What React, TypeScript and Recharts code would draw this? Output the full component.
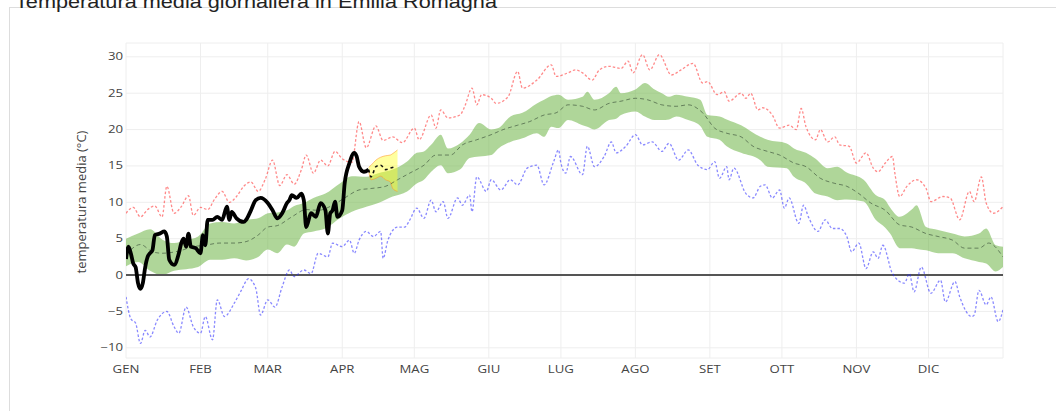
import React from 'react'
import {
  ComposedChart, Area, Line, XAxis, YAxis, CartesianGrid, ReferenceLine,
} from 'recharts'

const TITLE = 'Temperatura media giornaliera in Emilia Romagna'
const Y_LABEL = 'temperatura media (°C)'

const MONTHS = ['GEN', 'FEB', 'MAR', 'APR', 'MAG', 'GIU', 'LUG', 'AGO', 'SET', 'OTT', 'NOV', 'DIC']
const MONTH_DAYS = [0, 31, 59, 90, 120, 151, 181, 212, 243, 273, 304, 334]
const Y_TICKS = [-10, -5, 0, 5, 10, 15, 20, 25, 30]

// massimo storico (rosso)
const maxDays = [0, 3, 6, 9, 12, 15, 17, 20, 23, 26, 28, 31, 34, 37, 40, 43, 46, 49, 52, 55, 58, 61, 64, 67, 70, 73, 75, 78, 81, 84, 87, 90, 94, 97, 100, 104, 107, 111, 115, 120, 122, 127, 129, 131, 134, 139, 141, 144, 146, 148, 152, 154, 159, 163, 165, 171, 177, 179, 184, 187, 190, 194, 197, 201, 206, 209, 211, 215, 218, 222, 227, 231, 236, 240, 242, 246, 249, 251, 256, 258, 260, 263, 265, 269, 272, 276, 279, 281, 283, 287, 289, 292, 295, 297, 301, 304, 308, 311, 313, 316, 319, 320, 322, 325, 329, 333, 335, 340, 343, 347, 351, 353, 356, 358, 361, 365]
const maxVals = [8.5, 9.3, 8.0, 9.0, 9.5, 8.0, 12.2, 8.5, 9.4, 10.9, 8.2, 9.3, 9.0, 10.5, 11.5, 10.0, 10.8, 12.2, 12.8, 11.5, 13.2, 15.8, 12.3, 13.8, 12.5, 14.5, 16.5, 14.0, 15.8, 15.0, 17.0, 16.0, 15.5, 21.1, 17.5, 20.5, 18.5, 19.0, 18.2, 20.2, 18.6, 22.0, 20.2, 22.7, 21.6, 22.0, 23.2, 25.7, 23.4, 24.8, 24.3, 23.6, 24.5, 28.0, 25.7, 26.8, 28.9, 27.3, 27.8, 28.2, 27.8, 26.8, 28.2, 28.7, 28.4, 29.4, 27.8, 30.3, 28.2, 30.3, 27.5, 28.2, 29.1, 26.4, 26.6, 24.8, 25.2, 23.9, 25.0, 24.3, 25.0, 22.7, 23.0, 22.0, 20.2, 20.6, 20.0, 22.9, 20.4, 18.6, 20.0, 18.3, 19.0, 17.9, 17.7, 15.4, 16.8, 14.7, 14.2, 15.4, 16.3, 14.0, 10.8, 12.2, 13.1, 11.9, 10.1, 10.8, 10.6, 7.6, 11.5, 10.1, 13.5, 9.9, 8.5, 9.4]

// minimo storico (blu)
const minDays = [0, 2, 4, 6, 8, 10, 13, 17, 20, 22, 25, 28, 31, 33, 36, 38, 41, 45, 48, 51, 54, 56, 59, 62, 65, 68, 70, 74, 77, 80, 84, 86, 90, 93, 95, 97, 100, 103, 106, 107, 109, 113, 116, 118, 121, 124, 127, 129, 132, 134, 138, 140, 143, 144, 146, 150, 152, 156, 160, 163, 167, 171, 174, 178, 180, 181, 183, 185, 190, 192, 195, 199, 202, 204, 208, 212, 215, 219, 223, 226, 230, 234, 238, 242, 245, 247, 250, 251, 253, 258, 261, 264, 266, 269, 272, 274, 276, 280, 282, 284, 288, 291, 294, 297, 300, 302, 305, 308, 311, 313, 315, 319, 324, 326, 328, 331, 335, 339, 341, 345, 347, 352, 353, 355, 358, 360, 363, 365]
const minVals = [-3, -6, -6.6, -9.4, -7.6, -8.5, -6.2, -5, -7.1, -8, -4.4, -7.1, -8, -5.7, -8.9, -3.4, -5.7, -3.9, -2.1, -0.5, -1.8, -5.5, -3.4, -4.4, -1.6, 0.7, -0.2, 0.7, 0.2, 3, 2.5, 4.4, 3.9, 4.8, 3, 4.8, 6, 5.3, 6, 2.3, 4.8, 6.6, 6.6, 7.5, 9.2, 7.8, 10.3, 8.7, 10.1, 7.8, 10.6, 9.6, 11, 8.7, 13.5, 11.5, 13.1, 11.7, 13.1, 12.4, 14.7, 15.1, 12.4, 15.6, 17.2, 15.4, 14, 16.3, 13.8, 17.7, 14.9, 16.3, 18.3, 16.8, 17.7, 19.3, 17.9, 18.3, 17, 18.1, 15.8, 17.2, 15.1, 14.5, 15.6, 13.3, 14.9, 13.1, 14.7, 11.2, 10.6, 12.2, 12.4, 10.6, 11.7, 9.2, 10.6, 7.1, 9.6, 8, 6, 7.6, 6.4, 6.4, 5.3, 3.2, 4.4, 0.9, 3.2, 2.3, 4.1, 0.2, -1.1, 0.2, -2.3, 1.1, -2.5, -0.7, -3.7, -0.9, -3, -5.7, -5.5, -2.1, -4.1, -3, -6.4, -4.8]

// fascia percentili (verde)
const bandDays = [0, 5, 10, 15, 20, 25, 30, 35, 40, 45, 50, 55, 59, 63, 67, 70, 74, 78, 83, 89, 94, 100, 105, 111, 117, 121, 124, 127, 131, 134, 139, 143, 147, 152, 155, 160, 165, 171, 174, 177, 180, 184, 190, 192, 195, 201, 204, 206, 212, 216, 220, 223, 226, 229, 234, 239, 242, 247, 250, 256, 264, 267, 275, 278, 283, 287, 292, 296, 300, 307, 312, 316, 318, 322, 327, 329, 333, 338, 344, 349, 355, 358, 362, 365]
const bandLo = [1.2, 1.8, 0.6, 0.0, 0.6, 0.8, 1.1, 2.1, 2.1, 2.3, 2.0, 2.5, 3.5, 3.0, 4.2, 3.9, 5.7, 6.0, 6.4, 7.8, 8.7, 9.4, 9.9, 10.8, 11.5, 12.6, 13.1, 14.2, 15.1, 14.0, 14.5, 16.1, 16.3, 16.5, 17.4, 18.3, 18.8, 19.5, 19.0, 20.4, 20.2, 21.3, 20.6, 20.4, 20.0, 21.3, 21.5, 22.0, 22.5, 21.8, 21.3, 21.3, 21.4, 21.8, 21.3, 20.5, 19.0, 18.6, 17.7, 16.8, 15.8, 14.9, 14.7, 13.5, 12.6, 11.2, 10.8, 10.3, 10.4, 10.1, 7.6, 6.5, 5.7, 3.7, 3.7, 3.6, 3.4, 3.0, 3.0, 2.3, 1.8, 1.6, 0.5, 1.1]
const bandHi = [5.0, 5.7, 6.3, 4.9, 4.4, 4.8, 5.3, 7.1, 7.3, 7.1, 7.6, 7.8, 8.5, 8.6, 8.9, 9.5, 9.9, 10.6, 11.2, 12.6, 13.6, 13.5, 14.0, 14.5, 15.6, 16.8, 17.0, 17.9, 19.3, 17.4, 18.1, 19.3, 20.9, 20.0, 20.2, 21.8, 22.3, 23.6, 24.1, 24.6, 24.8, 24.1, 24.5, 25.2, 24.1, 25.0, 25.9, 25.0, 25.5, 26.4, 25.5, 25.0, 24.5, 24.8, 24.5, 24.1, 22.0, 21.8, 21.4, 20.6, 19.0, 18.6, 18.1, 17.4, 16.8, 16.0, 14.7, 14.9, 14.1, 13.1, 11.0, 10.3, 9.3, 8.0, 9.0, 9.6, 6.6, 6.2, 5.7, 5.3, 5.7, 6.4, 4.1, 3.9]

// mediana (tratteggiata)
const medDays = [0, 6, 11, 15, 22, 28, 33, 39, 45, 50, 55, 59, 63, 69, 75, 80, 86, 91, 97, 102, 108, 113, 118, 124, 129, 135, 140, 146, 152, 157, 163, 168, 174, 179, 184, 190, 195, 201, 206, 212, 217, 223, 229, 234, 240, 245, 250, 256, 261, 267, 272, 278, 283, 289, 295, 300, 305, 310, 316, 322, 327, 333, 338, 344, 349, 355, 359, 365]
const medVals = [2.8, 4.2, 3.2, 3.0, 3.3, 3.9, 4.1, 4.4, 4.4, 4.6, 5.5, 6.6, 6.8, 8.0, 9.0, 8.9, 9.6, 10.6, 11.7, 11.9, 12.2, 13.1, 14.0, 15.1, 16.5, 16.5, 17.9, 18.6, 19.3, 20.0, 20.6, 21.1, 22.0, 22.3, 23.4, 23.2, 22.7, 23.6, 23.9, 24.3, 24.1, 23.4, 23.2, 23.4, 22.3, 20.2, 19.5, 19.0, 17.7, 17.0, 16.5, 15.4, 14.9, 13.3, 12.6, 12.2, 11.2, 9.9, 8.9, 6.9, 6.6, 5.7, 5.3, 4.8, 3.7, 3.7, 4.4, 2.5]

// anno in corso (nero)
const obsDays = [0, 1, 2, 3, 4, 5, 6, 7, 8, 9, 10, 11, 12, 14, 16, 17, 18, 20, 22, 23, 24, 25, 26, 27, 29, 31, 32, 33, 34, 36, 38, 40, 42, 43, 44, 46, 49, 50, 52, 54, 56, 59, 61, 63, 65, 67, 68, 69, 71, 73, 74, 75, 77, 79, 81, 83, 84, 85, 86, 87, 88, 90, 91, 93, 95, 96, 97, 99, 101]
const obsVals = [2.2, 3.9, 3.0, 1.6, 1.1, -1.1, -1.9, -1.1, 1.1, 2.5, 3.0, 3.4, 5.5, 5.7, 6.0, 5.3, 2.1, 1.4, 3.0, 4.4, 5.0, 3.9, 5.7, 3.9, 3.7, 3.0, 5.5, 4.1, 7.6, 7.6, 8.0, 7.6, 9.4, 7.6, 8.7, 7.8, 7.3, 7.6, 8.9, 10.3, 10.6, 9.9, 8.9, 7.8, 8.5, 9.9, 10.3, 11.0, 10.6, 11.2, 10.3, 6.6, 8.5, 8.0, 9.9, 8.9, 5.7, 8.5, 8.9, 10.1, 8.0, 8.9, 12.6, 15.4, 16.8, 16.3, 14.9, 14.2, 14.5]

// previsione
const fcDays = [101, 102, 104, 106, 108, 110, 112]
const fcVals = [14.5, 13.5, 14.9, 15.1, 14.5, 14.7, 14.9]
const fcBandDays = [101, 102, 104, 106, 108, 110, 111, 113]
const fcLo = [14.3, 13.1, 13.3, 13.6, 13.1, 12.8, 11.9, 11.5]
const fcHi = [14.8, 15.1, 15.8, 16.2, 16.4, 16.5, 16.7, 17.2]

const maxData = maxDays.map((d, i) => ({ d, v: maxVals[i] }))
const minData = minDays.map((d, i) => ({ d, v: minVals[i] }))
const bandData = bandDays.map((d, i) => ({ d, r: [bandLo[i], bandHi[i]] }))
const medData = medDays.map((d, i) => ({ d, v: medVals[i] }))
const obsData = obsDays.map((d, i) => ({ d, v: obsVals[i] }))
const fcData = fcDays.map((d, i) => ({ d, v: fcVals[i] }))
const fcBandData = fcBandDays.map((d, i) => ({ d, r: [fcLo[i], fcHi[i]] }))

const FONT = '"Open Sans", Verdana, sans-serif'
const STRETCH = 1.32

function XTick(props: any) {
  const { x, y, payload } = props
  const label = MONTHS[MONTH_DAYS.indexOf(payload.value)] ?? ''
  return (
    <text transform={`translate(${x},${y}) scale(${STRETCH},1)`} textAnchor="middle"
      dy="0.71em" fontSize={10} fill="#444" fontFamily={FONT}>
      {label}
    </text>
  )
}

function YTick(props: any) {
  const { x, y, payload } = props
  const v = payload.value
  const label = v < 0 ? '\u2212' + Math.abs(v) : String(v)
  return (
    <text transform={`translate(${x},${y}) scale(${STRETCH},1)`} textAnchor="end"
      dy="0.35em" fontSize={10} fill="#444" fontFamily={FONT}>
      {label}
    </text>
  )
}

export default function App() {
  return (
    <div style={{ position: 'absolute', left: 0, top: 0, width: 1056, height: 411, overflow: 'hidden', background: '#fff' }}>
      <div style={{ position: 'absolute', left: 9, top: 7, width: 1100, height: 500, border: '1px solid #ddd' }} />
      <div style={{ position: 'absolute', left: 0, top: 0 }}>
        <ComposedChart width={1056} height={411} margin={{ top: 43, right: 53, bottom: 23, left: 76 }}>
          <CartesianGrid stroke="#eee" />
          <XAxis type="number" dataKey="d" domain={[0, 365]} ticks={MONTH_DAYS} interval={0}
            tick={<XTick />} axisLine={false} tickLine={false} tickSize={0} tickMargin={8}
            height={30} allowDataOverflow />
          <YAxis type="number" domain={[-11.4, 31.9]} ticks={Y_TICKS} interval={0}
            tick={<YTick />} axisLine={false} tickLine={false} tickSize={0} tickMargin={3}
            width={50} allowDataOverflow />
          <ReferenceLine y={0} stroke="#555" strokeWidth={2} />
          <Area data={bandData} dataKey="r" type="monotone" fill="rgb(110,180,70)" fillOpacity={0.55}
            stroke="none" isAnimationActive={false} dot={false} activeDot={false} />
          <Line data={medData} dataKey="v" type="monotone" stroke="rgba(50,70,50,0.6)" strokeWidth={1}
            strokeDasharray="4 3" dot={false} activeDot={false} isAnimationActive={false} />
          <Line data={maxData} dataKey="v" type="monotone" stroke="rgba(255,40,40,0.55)" strokeWidth={1.3}
            strokeDasharray="2.5 2" dot={false} activeDot={false} isAnimationActive={false} />
          <Line data={minData} dataKey="v" type="monotone" stroke="rgba(40,40,255,0.55)" strokeWidth={1.3}
            strokeDasharray="2.5 2" dot={false} activeDot={false} isAnimationActive={false} />
          <Area data={fcBandData} dataKey="r" type="monotone" fill="rgb(255,255,40)" fillOpacity={0.45}
            stroke="rgba(255,150,40,0.55)" strokeWidth={1} isAnimationActive={false} dot={false} activeDot={false} />
          <Line data={fcData} dataKey="v" type="monotone" stroke="#111" strokeWidth={1.6}
            strokeDasharray="3 3" dot={false} activeDot={false} isAnimationActive={false} />
          <Line data={obsData} dataKey="v" type="monotone" stroke="#000" strokeWidth={3.8}
            strokeLinejoin="round" dot={false} activeDot={false} isAnimationActive={false} />
        </ComposedChart>
      </div>
      <svg width={1056} height={411} style={{ position: 'absolute', left: 0, top: 0, pointerEvents: 'none' }}>
        <text x={15} y={8} fontSize={18} fill="#222" fontFamily="'Liberation Sans', Arial, sans-serif"
          textLength={482} lengthAdjust="spacingAndGlyphs">
          {TITLE}
        </text>
        <text transform="translate(86,202) rotate(-90)" textAnchor="middle" fontSize={13}
          fill="#444" fontFamily={FONT}>
          {Y_LABEL}
        </text>
      </svg>
    </div>
  )
}
